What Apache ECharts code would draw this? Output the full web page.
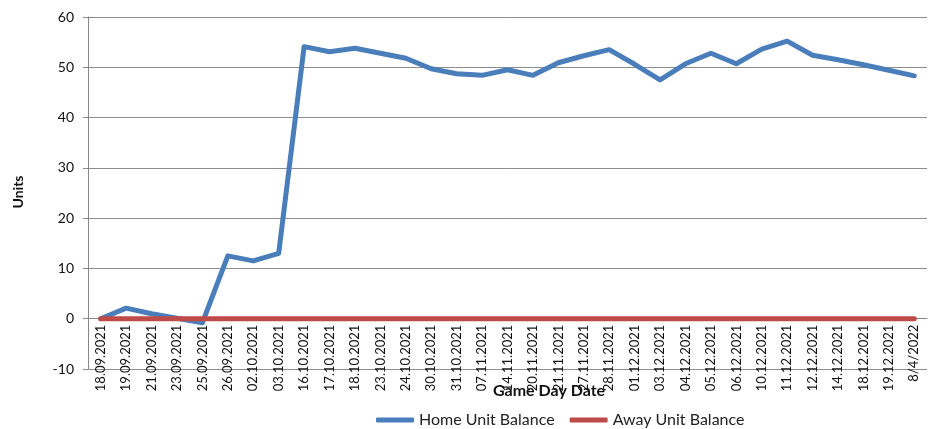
<!DOCTYPE html>
<html><head><meta charset="utf-8">
<script src="https://cdn.jsdelivr.net/npm/echarts@6/dist/echarts.min.js"></script>
<style>html,body{margin:0;padding:0;background:#fff}#c{width:938px;height:429px}</style>
</head><body><div id="c"></div>
<script>
const categories = ["18.09.2021","19.09.2021","21.09.2021","23.09.2021","25.09.2021","26.09.2021","02.10.2021","03.10.2021","16.10.2021","17.10.2021","18.10.2021","23.10.2021","24.10.2021","30.10.2021","31.10.2021","07.11.2021","14.11.2021","20.11.2021","21.11.2021","27.11.2021","28.11.2021","01.12.2021","03.12.2021","04.12.2021","05.12.2021","06.12.2021","10.12.2021","11.12.2021","12.12.2021","14.12.2021","18.12.2021","19.12.2021","8/4/2022"];
const homeUnitBalance = [0,2.1,1.0,0.1,-0.8,12.5,11.5,13.0,54.1,53.1,53.8,52.8,51.8,49.7,48.7,48.4,49.5,48.4,50.9,52.3,53.5,50.6,47.5,50.7,52.8,50.7,53.6,55.2,52.4,51.5,50.5,49.4,48.3];
const awayUnitBalance = [0,0,0,0,0,0,0,0,0,0,0,0,0,0,0,0,0,0,0,0,0,0,0,0,0,0,0,0,0,0,0,0,0];
const yTicks = {min:-10, max:60, interval:10};

const font = 'Lato, "Open Sans", sans-serif';
const gridTop = 17, gridBottom = 60, H = 429;
const plotH = H - gridTop - gridBottom;
const zeroOffset = -plotH * (0 - yTicks.min) / (yTicks.max - yTicks.min);
const chart = echarts.init(document.getElementById('c'), null, {renderer:'canvas'});
chart.setOption({
  animation:false,
  grid:{left:88,right:11,top:gridTop,bottom:gridBottom,containLabel:false,outerBoundsMode:'none'},
  legend:{
    top:412, left:376, itemWidth:38, itemHeight:5, itemGap:15, padding:0,
    textStyle:{fontFamily:font,fontSize:16,color:'#222'},
    data:[{name:'Home Unit Balance',icon:'roundRect'},{name:'Away Unit Balance',icon:'roundRect'}]
  },
  graphic:[
    {type:'text',left:493,top:383,z:10,style:{text:'Game Day Date',font:'bold 16px '+font,fill:'#111'}},
    {type:'text',x:18,y:192,rotation:Math.PI/2,style:{text:'Units',font:'bold 14px '+font,fill:'#111',textAlign:'center',textVerticalAlign:'middle'}}
  ],
  xAxis:{
    type:'category', data:categories, boundaryGap:true,
    offset:zeroOffset,
    axisLine:{onZero:false,lineStyle:{color:'#888',width:1}},
    axisTick:{show:false},
    axisLabel:{rotate:90,interval:0,margin:6,fontFamily:font,fontSize:13,color:'#111'}
  },
  yAxis:{
    type:'value', min:yTicks.min, max:yTicks.max, interval:yTicks.interval,
    axisLine:{show:true,lineStyle:{color:'#888'}},
    axisTick:{show:true,length:5,lineStyle:{color:'#888'}},
    splitLine:{show:true,lineStyle:{color:'#8c8c8c',width:1}},
    axisLabel:{margin:14,fontFamily:font,fontSize:14,color:'#111'}
  },
  series:[
    {name:'Home Unit Balance',type:'line',data:homeUnitBalance,showSymbol:false,symbol:'none',
     lineStyle:{width:5,color:'#4a7ebb',cap:'round',join:'round'},itemStyle:{color:'#4a7ebb'}},
    {name:'Away Unit Balance',type:'line',data:awayUnitBalance,showSymbol:false,symbol:'none',
     lineStyle:{width:5,color:'#be4b48',cap:'round',join:'round'},itemStyle:{color:'#be4b48'}}
  ]
});
</script></body></html>
